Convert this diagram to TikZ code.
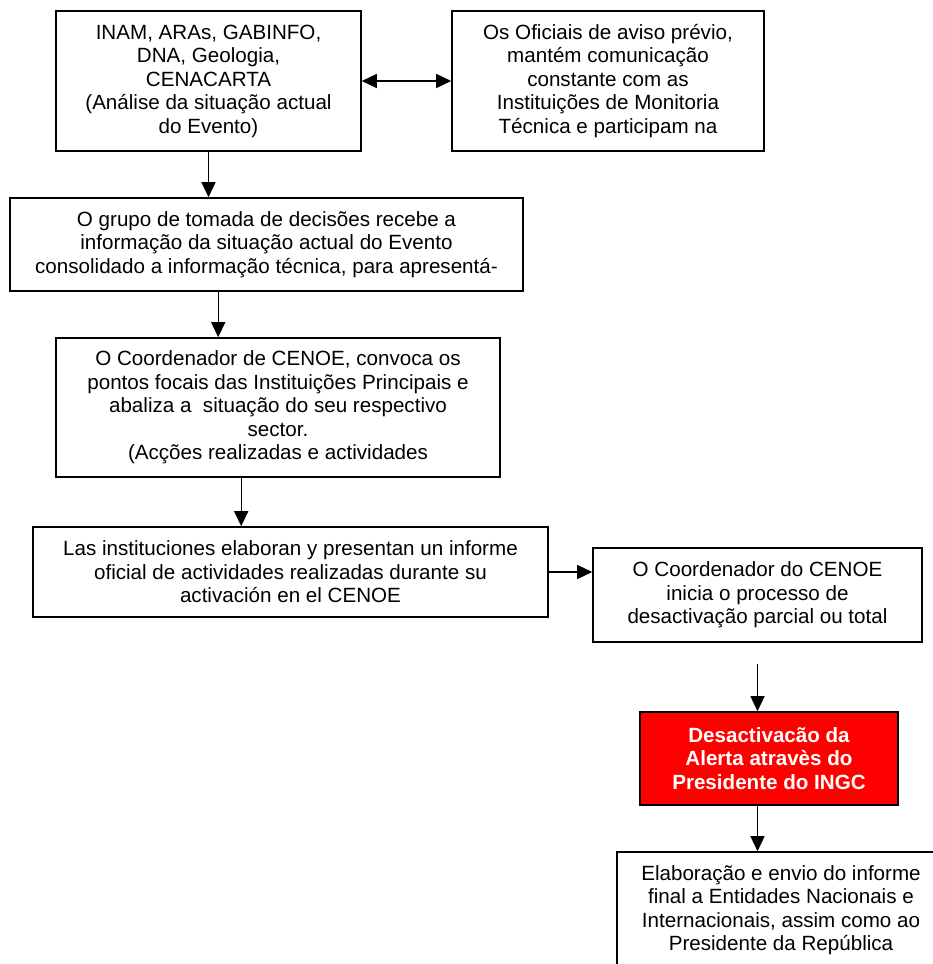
\documentclass[tikz,border=0pt]{standalone}
\usepackage{fontspec}
\setmainfont{Liberation Sans}
\usetikzlibrary{arrows.meta,calc}
\definecolor{alertred}{HTML}{FF0000}
\begin{document}
\begin{tikzpicture}[x=1pt,y=-1pt,
  every node/.style={font=\fontsize{20.6}{23.5}\selectfont, align=center, inner sep=0pt},
  box/.style={draw, line width=1.6pt, fill=white},
  alertbox/.style={draw, line width=1.6pt, fill=alertred, text=white, font=\fontsize{20.6}{23.5}\selectfont\bfseries},
  arr/.style={line width=1.4pt, -{Triangle[length=15pt,width=14pt]}},
  darr/.style={line width=1.4pt, {Triangle[length=15pt,width=14pt]}-{Triangle[length=15pt,width=14pt]}}]
\useasboundingbox (0,0) rectangle (933,964);

% monitoring institutions and early-warning officers
\node[box, minimum width=305pt, minimum height=140pt] (b1) at (208.5,81)
  {INAM, ARAs, GABINFO,\\DNA, Geologia,\\CENACARTA\\(Análise da situação actual\\do Evento)};
\node[box, minimum width=312pt, minimum height=140pt] (b2) at (608,81)
  {Os Oficiais de aviso prévio,\\mantém comunicação\\constante com as\\Instituições de Monitoria\\Técnica e participam na};

% decision group
\node[box, minimum width=513pt, minimum height=93pt] (b3) at (266.5,244.5)
  {O grupo de tomada de decisões recebe a\\informação da situação actual do Evento\\consolidado a informação técnica, para apresentá-};

% CENOE coordinator
\node[box, minimum width=444pt, minimum height=139pt] (b4) at (278,407.5)
  {O Coordenador de CENOE, convoca os\\pontos focais das Instituições Principais e\\abaliza a\ \ situação do seu respectivo\\sector.\\(Acções realizadas e actividades};

% institutions report
\node[box, minimum width=515pt, minimum height=90pt] (b5) at (290.5,572)
  {Las instituciones elaboran y presentan un informe\\oficial de actividades realizadas durante su\\activación en el CENOE};

% deactivation process
\node[box, minimum width=329pt, minimum height=94pt] (b6) at (757.5,595)
  {O Coordenador do CENOE\\inicia o processo de\\desactivação parcial ou total};

% alert deactivation
\node[alertbox, minimum width=258pt, minimum height=93pt] (red) at (769,758.5)
  {Desactivacão da\\Alerta atravès do\\Presidente do INGC};

% final report
\node[box, minimum width=328pt, minimum height=116pt] (final) at (781,910)
  {Elaboração e envio do informe\\final a Entidades Nacionais e\\Internacionais, assim como ao\\Presidente da República};

% connectors
\draw[darr] (b1.east) -- (b2.west);
\draw[arr] (b1.south) -- (b1.south |- b3.north);
\draw[arr] ([xshift=209pt]b3.south west) coordinate (s34) -- (s34 |- b4.north);
\draw[arr] ([xshift=186pt]b4.south west) coordinate (s45) -- (s45 |- b5.north);
\draw[arr] (b5.east) -- (b5.east -| b6.west);
\coordinate (gapstart) at ([yshift=-21pt]b6.south);
\draw[arr] (gapstart) -- (gapstart |- red.north);
\draw[arr] (gapstart |- red.south) -- (gapstart |- final.north);
\end{tikzpicture}
\end{document}
